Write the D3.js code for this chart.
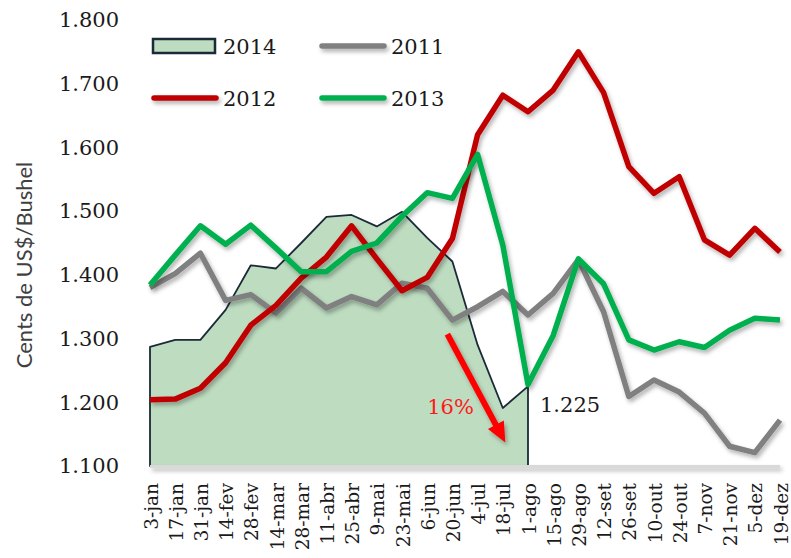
<!DOCTYPE html>
<html>
<head>
<meta charset="utf-8">
<script src="https://cdn.jsdelivr.net/npm/d3@7"></script>
<style>
    body { margin: 0; background: #ffffff; }
    svg { display: block; }
</style>
</head>
<body>
<div id="chart"></div>
<script>
// data (cents US$ / bushel)
var categories = ["3-jan", "17-jan", "31-jan", "14-fev", "28-fev", "14-mar", "28-mar", "11-abr",
    "25-abr", "9-mai", "23-mai", "6-jun", "20-jun", "4-jul", "18-jul", "1-ago", "15-ago", "29-ago",
    "12-set", "26-set", "10-out", "24-out", "7-nov", "21-nov", "5-dez", "19-dez"];

var s2014 = [1287, 1298, 1298, 1345, 1415, 1410, 1450, 1491, 1494, 1476, 1499, 1458, 1421, 1290, 1191, 1225];
var s2011 = [1380, 1402, 1434, 1360, 1369, 1340, 1379, 1348, 1366, 1353, 1387, 1379, 1329, 1350, 1374, 1337,
    1371, 1424, 1342, 1209, 1235, 1216, 1183, 1131, 1121, 1172];
var s2012 = [1204, 1205, 1222, 1262, 1321, 1352, 1395, 1428, 1477, 1425, 1375, 1396, 1457, 1620, 1682, 1656,
    1690, 1750, 1686, 1570, 1528, 1554, 1455, 1431, 1473, 1436];
var s2013 = [1384, 1431, 1477, 1448, 1478, 1442, 1405, 1405, 1437, 1450, 1492, 1529, 1520, 1589, 1447, 1228,
    1305, 1425, 1386, 1298, 1282, 1295, 1286, 1313, 1332, 1329];

var yTicks = [1100, 1200, 1300, 1400, 1500, 1600, 1700, 1800];

// annotation: [category index, value]
var arrowFrom = [11.8, 1307];
var arrowTo = [14.1, 1137];
var dropLabel = "16%";
var dropLabelAt = [11.0, 1182];
var lastLabel = "1.225";

var width = 791, height = 558;
var serif = "'DejaVu Serif', serif";

var svg = d3.select("#chart")
    .append("svg")
    .attr("width", width)
    .attr("height", height);

// soft shadow like the original lines (user space so flat lines keep it)
var defs = svg.append("defs");
defs.append("filter")
    .attr("id", "shadow")
    .attr("filterUnits", "userSpaceOnUse")
    .attr("x", -200).attr("y", -200)
    .attr("width", 1200).attr("height", 1000)
    .append("feDropShadow")
    .attr("dx", 2).attr("dy", 3)
    .attr("stdDeviation", 2)
    .attr("flood-color", "#000")
    .attr("flood-opacity", 0.3);

var x = d3.scalePoint()
    .domain(categories)
    .range([150, 780]);

var xi = d3.scaleLinear()
    .domain([0, categories.length - 1])
    .range(x.range());

var y = d3.scaleLinear()
    .domain([1100, 1800])
    .range([466, 20]);

var pt = d3.formatLocale({ decimal: ",", thousands: ".", grouping: [3], currency: ["", ""] });
var fmt = pt.format(",");

// Y axis (labels only)
var yAxis = svg.append("g")
    .attr("transform", "translate(150,0)")
    .call(d3.axisLeft(y).tickValues(yTicks).tickSize(0).tickPadding(31).tickFormat(fmt));
yAxis.select(".domain").remove();
yAxis.selectAll("text")
    .style("font-family", serif)
    .style("font-size", "21px")
    .style("fill", "#1a1a1a");

// X axis, rotated labels
var xAxis = svg.append("g")
    .attr("transform", "translate(0,466)")
    .call(d3.axisBottom(x).tickSize(0));
xAxis.select(".domain").remove();
xAxis.selectAll("text")
    .attr("transform", "rotate(-90)")
    .attr("text-anchor", "end")
    .attr("x", -17)
    .attr("y", 0)
    .attr("dy", "0.38em")
    .style("font-family", serif)
    .style("font-size", "18.5px")
    .style("fill", "#1a1a1a");

// y title
svg.append("text")
    .attr("transform", "translate(32,265) rotate(-90)")
    .attr("text-anchor", "middle")
    .style("font-family", "Lato, sans-serif")
    .style("font-size", "22px")
    .style("fill", "#404040")
    .text("Cents de US$/Bushel");

// 2014 area
var area = d3.area()
    .x(function(d, i) { return x(categories[i]); })
    .y0(y(1100))
    .y1(function(d) { return y(d); });

svg.append("path")
    .datum(s2014)
    .attr("d", area)
    .style("fill", "#bddcc0")
    .style("stroke", "#1b2a38")
    .style("stroke-width", 1.8)
    .style("stroke-linejoin", "round");

// bottom axis line
svg.append("line")
    .attr("x1", x(categories[0]))
    .attr("x2", x(categories[categories.length - 1]))
    .attr("y1", y(1100) + 0.5)
    .attr("y2", y(1100) + 0.5)
    .style("stroke", "#d9d9d9")
    .style("stroke-width", 3)
    .attr("filter", "url(#shadow)");

var line = d3.line()
    .x(function(d, i) { return x(categories[i]); })
    .y(function(d) { return y(d); });

var series = [
    { name: "2011", values: s2011, color: "#808080" },
    { name: "2012", values: s2012, color: "#c00000" },
    { name: "2013", values: s2013, color: "#00b050" }
];

series.forEach(function(s) {
    svg.append("path")
        .datum(s.values)
        .attr("d", line)
        .style("fill", "none")
        .style("stroke", s.color)
        .style("stroke-width", 5.5)
        .style("stroke-linejoin", "round")
        .attr("filter", "url(#shadow)");
});

// arrow annotation
var p0 = [xi(arrowFrom[0]), y(arrowFrom[1])],
    p1 = [xi(arrowTo[0]), y(arrowTo[1])];
var dx = p1[0] - p0[0], dy = p1[1] - p0[1];
var len = Math.sqrt(dx * dx + dy * dy);
var ux = dx / len, uy = dy / len;
var headLen = 20, headW = 9;
var base = [p1[0] - ux * headLen, p1[1] - uy * headLen];

var arrow = svg.append("g").attr("filter", "url(#shadow)");
arrow.append("line")
    .attr("x1", p0[0]).attr("y1", p0[1])
    .attr("x2", base[0] + ux * 2).attr("y2", base[1] + uy * 2)
    .style("stroke", "#ff0000")
    .style("stroke-width", 6);
arrow.append("polygon")
    .attr("points", [
        p1,
        [base[0] - uy * headW, base[1] + ux * headW],
        [base[0] + uy * headW, base[1] - ux * headW]
    ].map(function(p) { return p.join(","); }).join(" "))
    .style("fill", "#ff0000");

svg.append("text")
    .attr("x", xi(dropLabelAt[0]))
    .attr("y", y(dropLabelAt[1]))
    .style("font-family", serif)
    .style("font-size", "21px")
    .style("fill", "#ff1a1a")
    .text(dropLabel);

svg.append("text")
    .attr("x", x("1-ago") + 12)
    .attr("y", y(s2014[s2014.length - 1]) + 26)
    .style("font-family", serif)
    .style("font-size", "21px")
    .style("fill", "#1a1a1a")
    .text(lastLabel);

// legend
var legendItems = [
    { name: "2014", type: "area", color: "#bddcc0", col: 0, row: 0 },
    { name: "2011", type: "line", color: "#808080", col: 1, row: 0 },
    { name: "2012", type: "line", color: "#c00000", col: 0, row: 1 },
    { name: "2013", type: "line", color: "#00b050", col: 1, row: 1 }
];
var legendX = [152, 320], legendY = [46, 98];

legendItems.forEach(function(item) {
    var g = svg.append("g")
        .attr("transform", "translate(" + legendX[item.col] + "," + legendY[item.row] + ")");
    if (item.type == "area") {
        g.append("rect")
            .attr("x", 1).attr("y", -7)
            .attr("width", 62).attr("height", 14)
            .style("fill", item.color)
            .style("stroke", "#1b2a38")
            .style("stroke-width", 2.5);
    } else {
        g.append("line")
            .attr("x1", 2).attr("x2", 64)
            .attr("y1", 0).attr("y2", 0)
            .style("stroke", item.color)
            .style("stroke-width", 5.5)
            .style("stroke-linecap", "round")
            .attr("filter", "url(#shadow)");
    }
    g.append("text")
        .attr("x", 71)
        .attr("y", 0)
        .attr("dy", "0.36em")
        .style("font-family", serif)
        .style("font-size", "21px")
        .style("fill", "#1a1a1a")
        .text(item.name);
});
</script>
</body>
</html>
